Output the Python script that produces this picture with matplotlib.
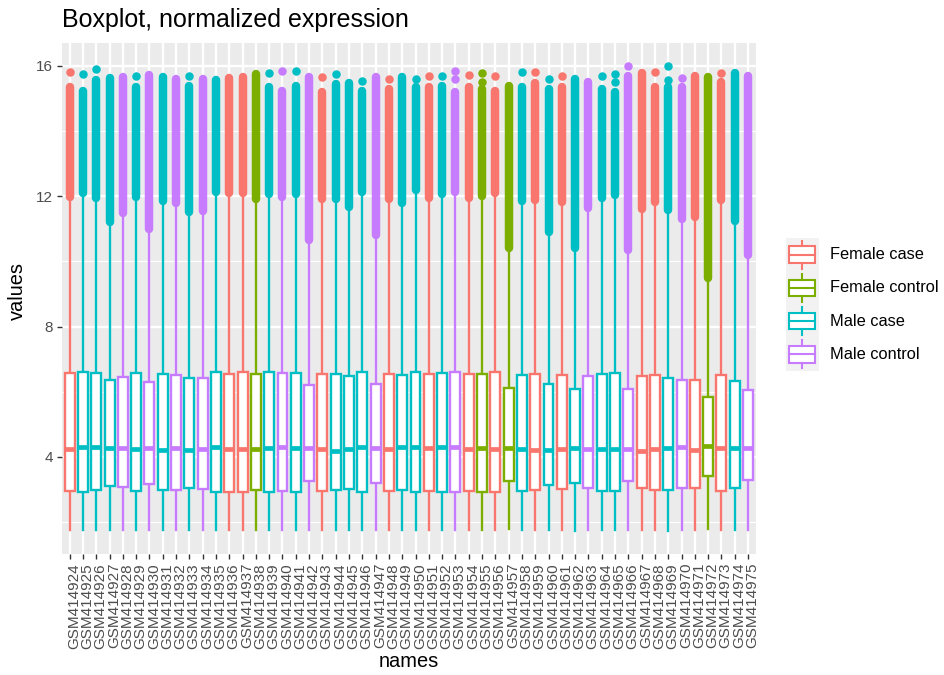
import matplotlib
matplotlib.use("Agg")
import matplotlib.pyplot as plt
from matplotlib.patches import Rectangle
from matplotlib.transforms import ScaledTranslation

plt.rcParams['font.family'] = ['Liberation Sans', 'DejaVu Sans']

# ---- data -----------------------------------------------------------------
samples = [
    "GSM414924", "GSM414925", "GSM414926", "GSM414927", "GSM414928", "GSM414929",
    "GSM414930", "GSM414931", "GSM414932", "GSM414933", "GSM414934", "GSM414935",
    "GSM414936", "GSM414937", "GSM414938", "GSM414939", "GSM414940", "GSM414941",
    "GSM414942", "GSM414943", "GSM414944", "GSM414945", "GSM414946", "GSM414947",
    "GSM414948", "GSM414949", "GSM414950", "GSM414951", "GSM414952", "GSM414953",
    "GSM414954", "GSM414955", "GSM414956", "GSM414957", "GSM414958", "GSM414959",
    "GSM414960", "GSM414961", "GSM414962", "GSM414963", "GSM414964", "GSM414965",
    "GSM414966", "GSM414967", "GSM414968", "GSM414969", "GSM414970", "GSM414971",
    "GSM414972", "GSM414973", "GSM414974", "GSM414975",
]

FC, FN, MC, MN = "Female case", "Female control", "Male case", "Male control"
groups = [
    FC, MC, MC, MC, MN, MC, MN, MC, MN, MC, MN, MC,
    FC, FC, FN, MC, MN, MC, MN, FC, MC, MC, MC, MN,
    FC, MC, MC, FC, MC, MN, FC, FN, FC, FN, MC, FC,
    MC, FC, MC, MN, MC, MC, MN, FC, FC, MC, MN, FC,
    FN, FC, MC, MN,
]

whisker_low = [
    1.75, 1.75, 1.75, 1.75, 1.75, 1.75, 1.77, 1.75, 1.75, 1.75, 1.75, 1.75,
    1.75, 1.75, 1.75, 1.75, 1.75, 1.75, 1.77, 1.75, 1.75, 1.75, 1.75, 1.77,
    1.75, 1.75, 1.75, 1.75, 1.75, 1.75, 1.75, 1.75, 1.75, 1.80, 1.75, 1.75,
    1.75, 1.75, 1.73, 1.75, 1.75, 1.75, 1.75, 1.75, 1.75, 1.73, 1.75, 1.75,
    1.80, 1.75, 1.75, 1.75,
]
q1 = [
    2.96, 2.92, 2.98, 3.12, 3.08, 2.94, 3.17, 2.98, 2.98, 3.03, 3.01, 2.92,
    2.93, 2.93, 2.98, 2.93, 2.96, 2.91, 3.25, 2.95, 2.97, 3.02, 2.92, 3.20,
    2.96, 2.99, 2.91, 2.95, 2.93, 2.92, 2.95, 2.93, 2.93, 3.26, 2.96, 2.98,
    3.14, 3.00, 3.20, 3.04, 2.94, 2.94, 3.26, 3.04, 2.99, 2.99, 3.06, 3.04,
    3.42, 2.95, 3.06, 3.28,
]
median = [
    4.24, 4.29, 4.29, 4.28, 4.27, 4.25, 4.27, 4.20, 4.27, 4.20, 4.23, 4.29,
    4.23, 4.25, 4.23, 4.26, 4.31, 4.27, 4.27, 4.23, 4.19, 4.23, 4.29, 4.28,
    4.24, 4.29, 4.31, 4.26, 4.31, 4.31, 4.25, 4.28, 4.23, 4.26, 4.23, 4.21,
    4.21, 4.24, 4.26, 4.25, 4.24, 4.24, 4.25, 4.18, 4.25, 4.28, 4.30, 4.21,
    4.33, 4.26, 4.27, 4.28,
]
q3 = [
    6.57, 6.59, 6.57, 6.36, 6.45, 6.56, 6.30, 6.53, 6.51, 6.41, 6.41, 6.61,
    6.54, 6.59, 6.55, 6.59, 6.57, 6.58, 6.21, 6.54, 6.54, 6.49, 6.61, 6.25,
    6.54, 6.51, 6.61, 6.55, 6.57, 6.59, 6.54, 6.55, 6.59, 6.10, 6.52, 6.54,
    6.24, 6.52, 6.08, 6.49, 6.55, 6.58, 6.09, 6.47, 6.51, 6.43, 6.35, 6.36,
    5.84, 6.52, 6.33, 6.05,
]
whisker_high = [
    11.98, 12.10, 11.95, 11.22, 11.49, 11.96, 11.00, 11.84, 11.80, 11.52, 11.54, 12.13,
    12.10, 12.10, 11.90, 12.06, 11.98, 12.08, 10.65, 11.90, 11.90, 11.67, 12.12, 10.82,
    11.90, 11.80, 12.18, 11.95, 12.07, 12.12, 11.93, 12.00, 12.10, 10.40, 11.85, 11.88,
    10.90, 11.83, 10.42, 11.64, 11.95, 12.03, 10.36, 11.61, 11.82, 11.59, 11.30, 11.37,
    9.49, 11.88, 11.25, 10.21,
]
# upper end of the continuous run of outliers above each whisker
outlier_top = [
    15.34, 15.24, 15.56, 15.62, 15.67, 15.36, 15.73, 15.67, 15.60, 15.37, 15.61, 15.56,
    15.62, 15.65, 15.75, 15.36, 15.24, 15.39, 15.65, 15.19, 15.44, 15.46, 15.24, 15.67,
    15.29, 15.65, 15.34, 15.36, 15.39, 15.19, 15.36, 15.29, 15.24, 15.39, 15.34, 15.46,
    15.29, 15.34, 15.60, 15.49, 15.29, 15.21, 15.70, 15.77, 15.36, 15.34, 15.34, 15.70,
    15.65, 15.49, 15.77, 15.70,
]
# isolated high outliers
outlier_points = [
    [15.82], [15.75], [15.89], [], [], [15.69], [], [], [], [15.68], [], [],
    [], [], [], [15.79], [15.85], [15.84], [], [15.66], [15.75], [], [15.52], [],
    [15.59], [], [15.61], [15.70], [15.68], [15.85, 15.61], [15.72], [15.51, 15.77], [15.69], [], [15.82], [15.80],
    [15.60], [15.69], [], [], [15.68], [15.74, 15.51], [15.99], [], [15.80], [15.99, 15.56], [15.63], [],
    [], [15.77], [], [],
]

legend_order = [FC, FN, MC, MN]
group_colors = {FC: "#F8766D", FN: "#7CAE00", MC: "#00BFC4", MN: "#C77CFF"}

# ---- layout -----------------------------------------------------------------
W, H = 944, 675
fig = plt.figure(figsize=(W / 100, H / 100), dpi=100)
fig.patch.set_facecolor("white")


def fx(px):
    return px / W


def fy(py):
    return 1 - py / H


ax = fig.add_axes([fx(61.7), fy(554), (756 - 61.7) / W, (554 - 43) / H])
ax.set_facecolor("#EBEBEB")
for s in ax.spines.values():
    s.set_visible(False)

n = len(samples)
positions = list(range(1, n + 1))
ax.set_xlim(0.4, n + 0.6)
ax.set_ylim(1.02, 16.70)

# grid
for v in [2, 6, 10, 14]:
    ax.axhline(v, color="white", lw=0.85, zorder=0)
for v in [4, 8, 12, 16]:
    ax.axhline(v, color="white", lw=1.7, zorder=0)
for p in positions:
    ax.axvline(p, color="white", lw=1.7, zorder=0)

# boxes
stats = []
for i in range(n):
    stats.append(dict(med=median[i], q1=q1[i], q3=q3[i],
                      whislo=whisker_low[i], whishi=whisker_high[i], fliers=[]))

bp = ax.bxp(stats, positions=positions, widths=0.75, patch_artist=True,
            showcaps=False, showfliers=False, manage_ticks=False)
for i in range(n):
    c = group_colors[groups[i]]
    box = bp["boxes"][i]
    box.set_facecolor("white")
    box.set_edgecolor(c)
    box.set_linewidth(1.7)
    box.set_zorder(3)
    med = bp["medians"][i]
    med.set_color(c)
    med.set_linewidth(3.4)
    med.set_solid_capstyle("butt")
    med.set_zorder(4)
    for w in bp["whiskers"][2 * i:2 * i + 2]:
        w.set_color(c)
        w.set_linewidth(1.7)
        w.set_zorder(2)

# outliers: continuous run plus isolated points
ms = 6.1
for i in range(n):
    c = group_colors[groups[i]]
    x = positions[i]
    ax.plot([x, x], [whisker_high[i], outlier_top[i]], color=c, lw=ms,
            solid_capstyle="round", zorder=5)
    pts = outlier_points[i]
    if pts:
        ax.plot([x] * len(pts), pts, "o", ms=ms, mew=0, color=c, zorder=5)

# ticks
ax.set_yticks([4, 8, 12, 16])
ax.set_yticklabels(["4", "8", "12", "16"], fontsize=11, color="#4D4D4D")
ax.set_xticks(positions)
ax.set_xticklabels(samples, rotation=90, fontsize=11, color="#4D4D4D")
ax.tick_params(axis="both", length=3.4, width=1.0, color="#333333", pad=3)
shift = ScaledTranslation(4.3 / 100, 0, fig.dpi_scale_trans)
for lbl in ax.get_xticklabels():
    lbl.set_transform(lbl.get_transform() + shift)

# titles
fig.text(fx(62), fy(27), "Boxplot, normalized expression", fontsize=18,
         color="black", ha="left", va="baseline")
fig.text(fx(409), fy(667), "names", fontsize=14.4, color="black",
         ha="center", va="baseline")
fig.text(fx(17), fy(291), "values", fontsize=14.4, color="black",
         ha="center", va="center", rotation=90)

# legend
lax = fig.add_axes([fx(786), fy(371), 33 / W, 133 / H])
lax.set_xlim(0, 1)
lax.set_ylim(0, 4)
lax.set_facecolor("#F2F2F2")
lax.set_xticks([])
lax.set_yticks([])
for s in lax.spines.values():
    s.set_visible(False)
for k, g in enumerate(legend_order):
    c = group_colors[g]
    y0 = 3 - k
    lax.add_patch(Rectangle((0.1, y0 + 0.25), 0.78, 0.5, facecolor="white",
                            edgecolor=c, lw=1.5))
    lax.plot([0.1, 0.88], [y0 + 0.5, y0 + 0.5], color=c, lw=1.5)
    lax.plot([0.49, 0.49], [y0 + 0.08, y0 + 0.25], color=c, lw=1.5)
    lax.plot([0.49, 0.49], [y0 + 0.75, y0 + 0.92], color=c, lw=1.5)
    fig.text(fx(830), fy(254.5 + 33.3 * k), g, fontsize=11.8, color="black",
             ha="left", va="center")

fig.savefig("out.png", dpi=100)
